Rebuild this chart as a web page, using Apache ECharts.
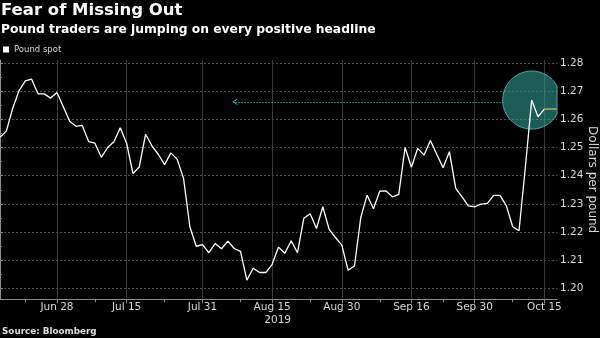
<!DOCTYPE html>
<html><head><meta charset="utf-8">
<script src="https://cdn.jsdelivr.net/npm/echarts@6/dist/echarts.min.js"></script>
<style>html,body{margin:0;padding:0;background:#000}#c{width:600px;height:338px}</style>
</head><body><div id="c"></div>
<script>
// Business days (2019), MM-DD
const dates = [
'06-17','06-18','06-19','06-20','06-21','06-24','06-25','06-26','06-27','06-28',
'07-01','07-02','07-03','07-04','07-05','07-08','07-09','07-10','07-11','07-12',
'07-15','07-16','07-17','07-18','07-19','07-22','07-23','07-24','07-25','07-26',
'07-29','07-30','07-31','08-01','08-02','08-05','08-06','08-07','08-08','08-09',
'08-12','08-13','08-14','08-15','08-16','08-19','08-20','08-21','08-22','08-23',
'08-26','08-27','08-28','08-29','08-30','09-02','09-03','09-04','09-05','09-06',
'09-09','09-10','09-11','09-12','09-13','09-16','09-17','09-18','09-19','09-20',
'09-23','09-24','09-25','09-26','09-27','09-30','10-01','10-02','10-03','10-04',
'10-07','10-08','10-09','10-10','10-11','10-14','10-15','10-16','10-17'];
const poundSpot = [
1.2536,1.2558,1.2638,1.2701,1.2736,1.2742,1.2690,1.2690,1.2675,1.2695,
1.2644,1.2593,1.2575,1.2578,1.2521,1.2515,1.2465,1.2500,1.2520,1.2570,
1.2515,1.2408,1.2431,1.2547,1.2506,1.2476,1.2439,1.2481,1.2458,1.2390,
1.2219,1.2150,1.2156,1.2127,1.2160,1.2141,1.2168,1.2142,1.2132,1.2030,
1.2072,1.2057,1.2057,1.2086,1.2147,1.2125,1.2169,1.2127,1.2249,1.2265,
1.2213,1.2290,1.2210,1.2181,1.2154,1.2065,1.2080,1.2252,1.2331,1.2283,
1.2345,1.2346,1.2325,1.2334,1.2500,1.2430,1.2497,1.2473,1.2525,1.2476,
1.2428,1.2485,1.2355,1.2325,1.2293,1.2290,1.2299,1.2302,1.2330,1.2330,
1.2293,1.2219,1.2205,1.2430,1.2668,1.2609,1.2636];
const labelDates = ['06-28','07-15','07-31','08-15','08-30','09-16','09-30','10-15'];
const tickLabels = ['Jun 28','Jul 15','Jul 31','Aug 15','Aug 30','Sep 16','Sep 30','Oct 15'];
const yearDate = '08-15';
const yearLabel = '2019';
const minorTickDates = ['06-21','07-08','07-23','08-08','08-23','09-09','09-23','10-08'];
const yTicks = [1.20,1.21,1.22,1.23,1.24,1.25,1.26,1.27,1.28];
const yMinorTicks = [1.205,1.215,1.225,1.235,1.245,1.255,1.265,1.275];
const yMin = 1.1962, yMax = 1.281;
const seriesName = 'Pound spot';
const peakDate = '10-11';
const arrowValue = 1.2662, arrowFromIdx = 79.6, arrowToIdx = 37.1;

const FONT = 'DejaVu Sans';
const idx = d => dates.indexOf(d);
const labelIdx = labelDates.map(idx);
const minorIdx = minorTickDates.map(idx);
const xMax = dates.length - 1;
const lineData = poundSpot.map((v, i) => [i, v]);
const peakIdx = idx(peakDate);
const lastIdx = poundSpot.length - 1;
const LBL = '#d6d6d6', AX = '#8a8a8a';
const gridBox = {left: 0, right: 43, top: 60, bottom: 38.7, outerBoundsMode: 'none', containLabel: false};

const chart = echarts.init(document.getElementById('c'), null, {renderer: 'canvas'});
chart.setOption({
  backgroundColor: '#000',
  animation: false,
  title: [
    {text: 'Fear of Missing Out', subtext: 'Pound traders are jumping on every positive headline',
     left: 1, top: 2, padding: 0, itemGap: 3,
     textStyle: {color: '#fff', fontSize: 16.5, fontWeight: 'bold', fontFamily: FONT, lineHeight: 18},
     subtextStyle: {color: '#fff', fontSize: 12.3, fontWeight: 'bold', fontFamily: FONT, lineHeight: 14}},
    {text: 'Source: Bloomberg', left: 2, top: 326, padding: 0,
     textStyle: {color: '#ddd', fontSize: 8.8, fontWeight: 'bold', fontFamily: FONT, lineHeight: 11}}
  ],
  legend: {data: [{name: seriesName, icon: 'rect'}], left: 3, top: 45, padding: 0,
    itemWidth: 6, itemHeight: 6, textStyle: {color: LBL, fontSize: 8.5, fontFamily: FONT}},
  grid: [Object.assign({}, gridBox), Object.assign({}, gridBox)],
  xAxis: [
    {type: 'value', gridIndex: 0, min: 0, max: xMax, position: 'bottom',
     axisLine: {show: true, lineStyle: {color: AX, width: 1}},
     axisTick: {show: true, customValues: labelIdx, length: 4, lineStyle: {color: AX}},
     axisLabel: {customValues: labelIdx, color: LBL, fontSize: 10.5, fontFamily: FONT, margin: 2, lineHeight: 12.5,
       formatter: v => {
         const k = labelIdx.indexOf(Math.round(v));
         if (k < 0) return '';
         return labelDates[k] === yearDate ? tickLabels[k] + '\n{yr|' + yearLabel + '}' : tickLabels[k];
       },
       rich: {yr: {padding: [0, 0, 0, 11], color: LBL, fontSize: 10.5, fontFamily: FONT, lineHeight: 12.5}}},
     splitLine: {show: true, lineStyle: {color: '#383838', width: 1, type: 'solid'}}},
    {type: 'value', gridIndex: 1, min: 0, max: xMax, position: 'bottom',
     axisLine: {show: false}, axisLabel: {show: false}, splitLine: {show: false},
     axisTick: {show: true, customValues: minorIdx, length: 3, lineStyle: {color: AX}}}
  ],
  yAxis: [
    {type: 'value', gridIndex: 0, position: 'right', min: yMin, max: yMax, scale: true,
     axisLine: {show: true, lineStyle: {color: AX, width: 1}},
     axisTick: {show: true, customValues: yTicks, length: 3, lineStyle: {color: AX}},
     axisLabel: {customValues: yTicks, formatter: v => v.toFixed(2), color: LBL, fontSize: 10.5, fontFamily: FONT, margin: 3},
     splitLine: {show: true, lineStyle: {color: '#505050', width: 1, type: [2, 2]}},
     name: 'Dollars per pound', nameLocation: 'middle', nameRotate: -90, nameGap: 29, nameMoveOverlap: false,
     nameTextStyle: {color: LBL, fontSize: 12, fontFamily: FONT}},
    {type: 'value', gridIndex: 1, position: 'right', min: yMin, max: yMax, scale: true,
     axisLine: {show: false}, axisLabel: {show: false}, splitLine: {show: false},
     axisTick: {show: true, customValues: yMinorTicks, length: 2, lineStyle: {color: AX}}}
  ],
  series: [
    {type: 'custom', xAxisIndex: 0, yAxisIndex: 0, silent: true, z: 1,
     data: [[peakIdx, poundSpot[peakIdx]]],
     renderItem: (params, api) => {
       const p = api.coord([api.value(0), api.value(1)]);
       const cs = params.coordSys;
       const right = cs.x + cs.width;
       const r = 29, pts = [];
       for (let k = 0; k < 120; k++) {
         const a = k / 120 * Math.PI * 2;
         pts.push([Math.min(p[0] + r * Math.cos(a), right), p[1] + r * Math.sin(a)]);
       }
       return {type: 'polygon', shape: {points: pts},
         style: {fill: 'rgba(52,165,158,0.55)', stroke: '#44b3aa', lineWidth: 1}};
     },
     markLine: {silent: true, symbol: 'none', label: {show: false}, animation: false,
       data: [[
         {coord: [arrowFromIdx, arrowValue], lineStyle: {color: '#2aa39a', width: 1.2, type: [1.5, 1.5]}},
         {coord: [arrowToIdx, arrowValue], symbol: 'path://M0,10 L5,0 L10,10 L8.4,10 L5,3.6 L1.6,10 Z', symbolSize: [7, 5]}
       ]]}},
    {name: seriesName, type: 'line', xAxisIndex: 0, yAxisIndex: 0, data: lineData, color: '#fff',
     showSymbol: false, symbol: 'none', z: 3, lineStyle: {color: '#fff', width: 1.3},
     markLine: {silent: true, symbol: 'none', label: {show: false}, animation: false,
       data: [[
         {coord: [lastIdx, poundSpot[lastIdx]], lineStyle: {color: '#b2a862', width: 1.5, type: 'solid'}},
         {coord: [xMax, poundSpot[lastIdx]]}
       ]]}}
  ]
});
</script></body></html>
